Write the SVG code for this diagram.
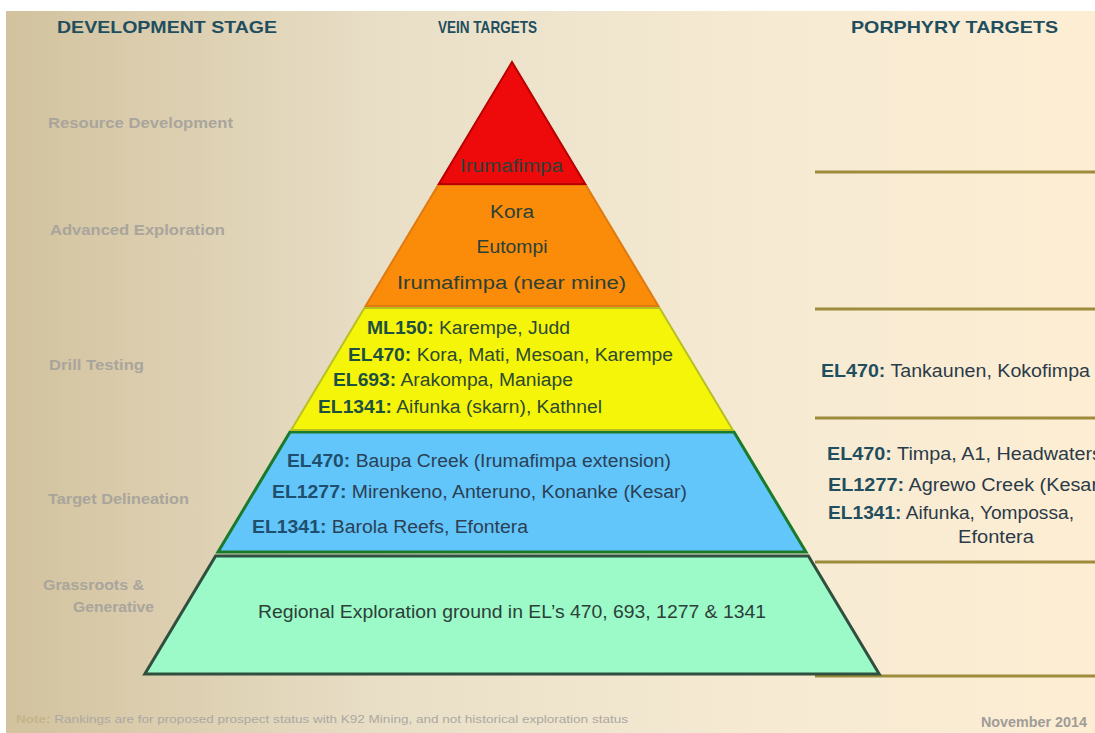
<svg xmlns="http://www.w3.org/2000/svg" width="1095" height="733" viewBox="0 0 1095 733">
<defs>
<linearGradient id="bg" x1="0" y1="0" x2="1" y2="0">
<stop offset="0" stop-color="#d2c29e"/>
<stop offset="0.35" stop-color="#e9dfc7"/>
<stop offset="0.7" stop-color="#f6ead3"/>
<stop offset="1" stop-color="#fdeed3"/>
</linearGradient>
<style>
text{font-family:"Liberation Sans",Arial,sans-serif;}
.hdr{font-size:17px;font-weight:bold;fill:#1f4e5f;}
.stage{font-size:14.5px;font-weight:bold;fill:#a9a59c;}
.v{font-size:18px;fill:#2c4038;}
.b{font-weight:bold;}
.yl .b{fill:#1d5040;}
.yl{fill:#2d4a30;}
.bl .b{fill:#1f4e6e;}
.bl{fill:#2b3f55;}
.pr{font-size:17.5px;fill:#2b3a48;}
.pr .b{fill:#1f4e5f;}
.pline{stroke:#9c8c3c;stroke-width:3;fill:none;}
</style>
</defs>
<rect x="0" y="0" width="1095" height="733" fill="#ffffff"/>
<rect x="6" y="11" width="1089" height="722" fill="url(#bg)"/>

<g id="headers">
<text class="hdr" x="57" y="33" textLength="220" lengthAdjust="spacingAndGlyphs">DEVELOPMENT STAGE</text>
<text class="hdr" x="438" y="33" textLength="99" lengthAdjust="spacingAndGlyphs">VEIN TARGETS</text>
<text class="hdr" x="851" y="33" textLength="207" lengthAdjust="spacingAndGlyphs">PORPHYRY TARGETS</text>
</g>

<g id="stages">
<text class="stage" x="48" y="128" textLength="185" lengthAdjust="spacingAndGlyphs">Resource Development</text>
<text class="stage" x="50" y="235" textLength="175" lengthAdjust="spacingAndGlyphs">Advanced Exploration</text>
<text class="stage" x="49" y="370" textLength="95" lengthAdjust="spacingAndGlyphs">Drill  Testing</text>
<text class="stage" x="48" y="504" textLength="141" lengthAdjust="spacingAndGlyphs">Target Delineation</text>
<text class="stage" x="43" y="590" textLength="101" lengthAdjust="spacingAndGlyphs">Grassroots &amp;</text>
<text class="stage" x="73" y="612" textLength="81" lengthAdjust="spacingAndGlyphs">Generative</text>
</g>

<g id="connectors">
<line class="pline" x1="815" y1="172" x2="1095" y2="172"/>
<line class="pline" x1="815" y1="309" x2="1095" y2="309"/>
<line class="pline" x1="815" y1="418" x2="1095" y2="418"/>
<line class="pline" x1="815" y1="562" x2="1095" y2="562"/>
<line class="pline" x1="815" y1="676" x2="1095" y2="676"/>
</g>

<g id="level-grassroots">
<polygon points="215.6,556 808.4,556 879.2,674 144.8,674" fill="#9cfac8" stroke="#2f4f3f" stroke-width="3"/>
<text class="v" x="258" y="618" fill="#1d5a55" textLength="508" lengthAdjust="spacingAndGlyphs">Regional Exploration ground in EL’s 470, 693, 1277 &amp; 1341</text>
</g>

<g id="level-target">
<polygon points="290,432 734,432 806,552 218,552" fill="#62c6fa" stroke="#1a7a2a" stroke-width="3"/>
<text class="v bl" x="287" y="467" textLength="384" lengthAdjust="spacingAndGlyphs"><tspan class="b">EL470:</tspan> Baupa Creek (Irumafimpa extension)</text>
<text class="v bl" x="272" y="498" textLength="415" lengthAdjust="spacingAndGlyphs"><tspan class="b">EL1277:</tspan> Mirenkeno, Anteruno, Konanke (Kesar)</text>
<text class="v bl" x="252" y="533" textLength="276" lengthAdjust="spacingAndGlyphs"><tspan class="b">EL1341:</tspan> Barola Reefs, Efontera</text>
</g>

<g id="level-drill">
<polygon points="364.4,308 659.6,308 732.8,430 291.2,430" fill="#f5f50a" stroke="#b8c020" stroke-width="2"/>
<text class="v yl" x="367" y="334" textLength="203" lengthAdjust="spacingAndGlyphs"><tspan class="b">ML150:</tspan> Karempe, Judd</text>
<text class="v yl" x="348" y="361" textLength="325" lengthAdjust="spacingAndGlyphs"><tspan class="b">EL470:</tspan> Kora, Mati, Mesoan, Karempe</text>
<text class="v yl" x="333" y="386" textLength="240" lengthAdjust="spacingAndGlyphs"><tspan class="b">EL693:</tspan> Arakompa, Maniape</text>
<text class="v yl" x="318" y="413" textLength="284" lengthAdjust="spacingAndGlyphs"><tspan class="b">EL1341:</tspan> Aifunka (skarn), Kathnel</text>
</g>

<g id="level-advanced">
<polygon points="438.2,185 585.8,185 658.4,306 365.6,306" fill="#fa8c0a" stroke="#e07a10" stroke-width="2"/>
<text class="v" x="512" y="218" fill="#4a4038" text-anchor="middle" textLength="44" lengthAdjust="spacingAndGlyphs">Kora</text>
<text class="v" x="512" y="253" fill="#4a4038" text-anchor="middle" textLength="71" lengthAdjust="spacingAndGlyphs">Eutompi</text>
<text class="v" x="397" y="289" fill="#4a4038" textLength="229" lengthAdjust="spacingAndGlyphs">Irumafimpa  (near mine)</text>
</g>

<g id="level-resource">
<polygon points="512,62 585.2,184 438.8,184" fill="#ee0a0a" stroke="#b80000" stroke-width="2"/>
<text class="v" x="460" y="172" fill="#8e1a40" textLength="103" lengthAdjust="spacingAndGlyphs">Irumafimpa</text>
</g>

<g id="porphyry">
<text class="pr" x="821" y="377" textLength="269" lengthAdjust="spacingAndGlyphs"><tspan class="b">EL470:</tspan> Tankaunen, Kokofimpa</text>
<text class="pr" x="827" y="460" textLength="275" lengthAdjust="spacingAndGlyphs"><tspan class="b">EL470:</tspan> Timpa, A1, Headwaters</text>
<text class="pr" x="828" y="491" textLength="270" lengthAdjust="spacingAndGlyphs"><tspan class="b">EL1277:</tspan> Agrewo Creek (Kesar</text>
<text class="pr" x="828" y="519" textLength="246" lengthAdjust="spacingAndGlyphs"><tspan class="b">EL1341:</tspan> Aifunka, Yompossa,</text>
<text class="pr" x="958" y="543" textLength="76" lengthAdjust="spacingAndGlyphs">Efontera</text>
</g>

<g id="footer">
<text x="16" y="723" font-size="11" fill="#aca8a2" textLength="612" lengthAdjust="spacingAndGlyphs"><tspan font-weight="bold" fill="#c4b48c">Note:</tspan> Rankings are for proposed prospect status with K92 Mining, and not historical exploration status</text>
<text x="981" y="727" font-size="14" font-weight="bold" fill="#a09c98" textLength="106" lengthAdjust="spacingAndGlyphs">November 2014</text>
</g>
</svg>
